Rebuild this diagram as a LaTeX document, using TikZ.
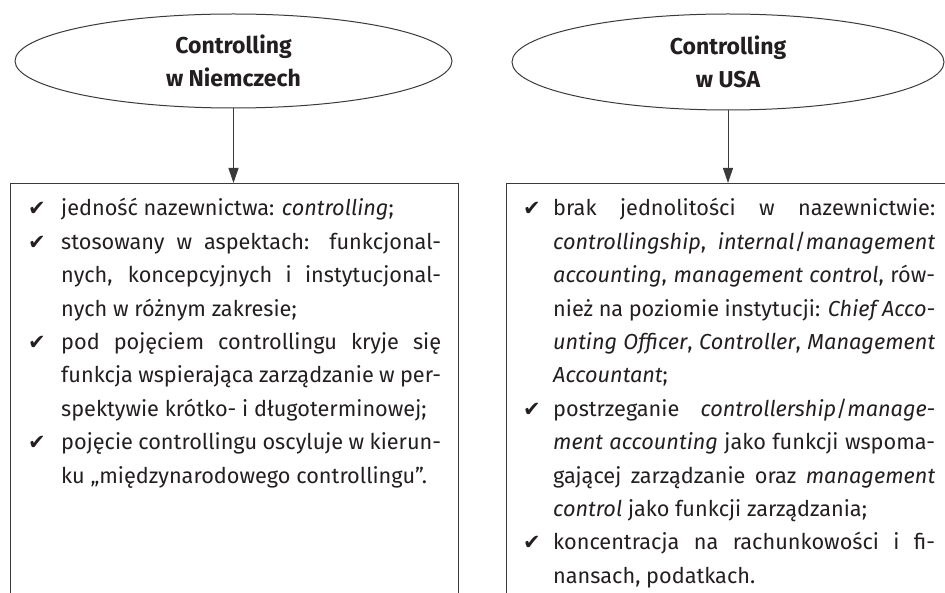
\documentclass[tikz,border=0pt]{standalone}
\usepackage{fontspec}
\setmainfont{Fira Sans}
\newfontfamily\symfont{DejaVu Sans}
\usetikzlibrary{shapes.geometric,arrows.meta}

\definecolor{ink}{HTML}{231F20}
\definecolor{rule}{HTML}{3A3A3A}

% list layout: tick column + justified text column
\newlength\tickw
\newlength\txtw
\newcommand\tick{\makebox[\tickw][l]{\symfont\fontsize{21}{21}\selectfont ✔}}
\newcommand\notick{\hspace*{\tickw}}
\newcommand\jl[1]{\makebox[\txtw][s]{#1}}
\newcommand\rl[1]{\makebox[\txtw][l]{#1}}
\newcommand\listfont{\fontsize{21.7}{33.4}\selectfont}

\tikzset{
  oval/.style={ellipse, draw=rule, line width=1pt, inner sep=0pt,
    align=center, text=ink, font=\fontsize{23}{33}\selectfont\bfseries},
  panel/.style={draw=rule, line width=1.3pt, inner sep=0pt, anchor=north west},
  arr/.style={draw=rule, line width=1pt, -{Triangle[length=15pt,width=10pt]}},
  listtext/.style={anchor=base west, inner sep=0pt, text=ink}
}

\begin{document}
\begin{tikzpicture}[x=1pt,y=-1pt]
\useasboundingbox (0,0) rectangle (945,593);
\clip (0,0) rectangle (945,593);

% headings
\node[oval, minimum width=437pt, minimum height=94pt] (lell) at (233.5,61) {Controlling\\w Niemczech};
\node[oval, minimum width=432pt, minimum height=96pt] (rell) at (728,62) {Controlling\\w USA};

% panels (running past the lower and right edges)
\node[panel, minimum width=448pt, minimum height=460pt] (lbox) at (10,183) {};
\node[panel, minimum width=460pt, minimum height=460pt] (rbox) at (506,183) {};

% connectors
\draw[arr] (lell.south) -- (lell.south |- lbox.north);
\draw[arr] (rell.south) -- (rell.south |- rbox.north);

% left list
\node[listtext] (ltxt) at (28,216) {\setlength\tickw{33pt}\setlength\txtw{380pt}%
\parbox[t]{413pt}{\listfont
\tick\rl{jedność nazewnictwa: \textit{controlling};}\\
\tick\jl{stosowany w aspektach: funkcjonal-}\\
\notick\jl{nych, koncepcyjnych i instytucjonal-}\\
\notick\rl{nych w różnym zakresie;}\\
\tick\jl{pod pojęciem controllingu kryje się}\\
\notick\jl{funkcja wspierająca zarządzanie w per-}\\
\notick\rl{spektywie krótko- i długoterminowej;}\\
\tick\jl{pojęcie controllingu oscyluje w kierun-}\\
\notick\rl{ku „międzynarodowego controllingu”.}}};

% right list
\node[listtext] (rtxt) at (523,216) {\setlength\tickw{30pt}\setlength\txtw{382pt}%
\parbox[t]{412pt}{\listfont
\tick\jl{brak jednolitości w nazewnictwie:}\\
\notick\jl{\textit{controllingship}, \textit{internal}/\textit{management}}\\
\notick\jl{\textit{accounting}, \textit{management control}, rów-}\\
\notick\jl{nież na poziomie instytucji: \textit{Chief Acco-}}\\
\notick\jl{\textit{unting Officer}, \textit{Controller}, \textit{Management}}\\
\notick\rl{\textit{Accountant};}\\
\tick\jl{postrzeganie \textit{controllership}/\textit{manage-}}\\
\notick\jl{\textit{ment accounting} jako funkcji wspoma-}\\
\notick\jl{gającej zarządzanie oraz \textit{management}}\\
\notick\rl{\textit{control} jako funkcji zarządzania;}\\
\tick\jl{koncentracja na rachunkowości i fi-}\\
\notick\rl{nansach, podatkach.}}};
\end{tikzpicture}
\end{document}
